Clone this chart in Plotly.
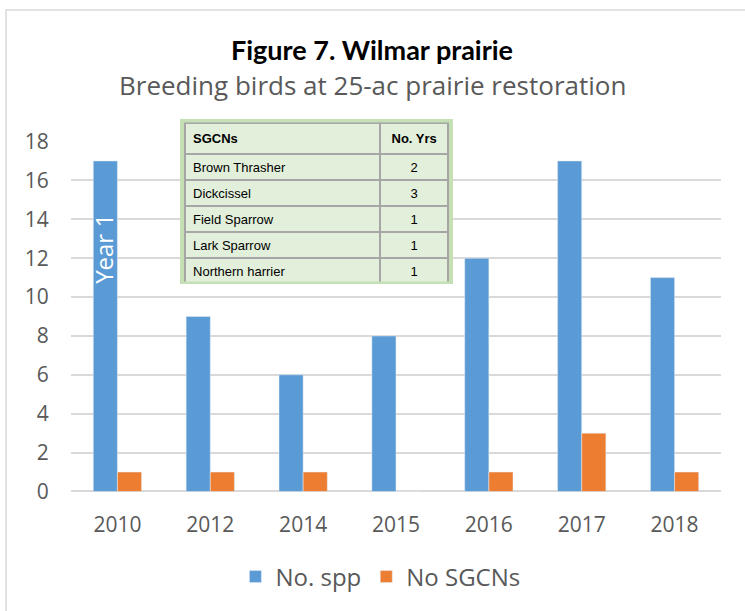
import plotly.graph_objects as go

years = ["2010", "2012", "2014", "2015", "2016", "2017", "2018"]
no_spp = [17, 9, 6, 8, 12, 17, 11]
no_sgcns = [1, 1, 1, 0, 1, 3, 1]

sgcn_names = ["Brown Thrasher", "Dickcissel", "Field Sparrow", "Lark Sparrow", "Northern harrier"]
sgcn_years = [2, 3, 1, 1, 1]

title_font = "Lato, Carlito, Calibri, sans-serif"
body_font = "Open Sans, Calibri, sans-serif"
table_font = "Liberation Sans Narrow, Liberation Sans, Arial"
grey = "#595959"
grid = "#d9d9d9"
green_frame = "#c5e0b4"
green_cell = "#e2efda"

fig = go.Figure()
fig.add_trace(go.Bar(x=years, y=no_spp, name="No. spp", marker_color="#5b9bd5"))
fig.add_trace(go.Bar(x=years, y=no_sgcns, name="No SGCNs", marker_color="#ed7d31"))

# green frame behind the table (a one-cell table so it covers the gridlines)
fig.add_trace(go.Table(
    domain=dict(x=[0.1692, 0.5892], y=[0.5364, 0.8139]),
    header=dict(values=[""], height=10, fill=dict(color=green_frame),
                line=dict(color=green_frame, width=1)),
    cells=dict(values=[[""]], height=154, fill=dict(color=green_frame),
               line=dict(color=green_frame, width=1)),
))

# SGCN table
fig.add_trace(go.Table(
    domain=dict(x=[0.1754, 0.5815], y=[0.5398, 0.8080]),
    columnwidth=[196, 68],
    header=dict(values=["<b>SGCNs</b>", "<b>No. Yrs</b>"],
                align=["left", "center"], height=25,
                fill=dict(color=green_cell),
                line=dict(color="#a6a6a6", width=2),
                font=dict(family=table_font, size=13, color="black")),
    cells=dict(values=[sgcn_names, [str(v) for v in sgcn_years]],
               align=["left", "center"], height=26,
               fill=dict(color=green_cell),
               line=dict(color="#a6a6a6", width=2),
               font=dict(family=table_font, size=13, color="black")),
))

fig.update_layout(
    width=745, height=611,
    margin=dict(l=71, r=24, t=10, b=10, autoexpand=False),
    paper_bgcolor="white", plot_bgcolor="white",
    font=dict(family=body_font, color=grey),
    barmode="group", bargap=0.48, bargroupgap=0,
    showlegend=True,
    legend=dict(orientation="h", x=0.476, xanchor="center", y=0.0406, yanchor="middle",
                font=dict(size=24, color=grey, family=body_font), traceorder="normal"),
    xaxis=dict(type="category", categoryorder="array", categoryarray=years,
               range=[-0.5, len(years) - 0.5], showgrid=False, showline=False,
               ticks="outside", ticklen=14, tickcolor="rgba(0,0,0,0)",
               tickfont=dict(size=21, color=grey, family=body_font)),
    yaxis=dict(domain=[0.1853, 0.7775], range=[0, 18], dtick=2, showgrid=True, gridcolor=grid,
               gridwidth=1.5, zeroline=True, zerolinecolor=grid, zerolinewidth=1.5,
               ticks="outside", ticklen=17, tickcolor="rgba(0,0,0,0)",
               tickfont=dict(size=21, color=grey, family=body_font)),
    shapes=[
        dict(type="rect", xref="paper", yref="paper", x0=-0.1, x1=1.06, y0=-0.05, y1=1.0,
             line=dict(color=grid, width=1.5), fillcolor="rgba(0,0,0,0)", layer="below"),
    ],
    annotations=[
        dict(text="<b>Figure 7. Wilmar prairie</b>", xref="paper", yref="paper", x=0.4638, y=0.934,
             xanchor="center", yanchor="middle", showarrow=False,
             font=dict(size=27, color="black", family=title_font)),
        dict(text="Breeding birds at 25-ac prairie restoration", xref="paper", yref="paper",
             x=0.4638, y=0.8731, xanchor="center", yanchor="middle", showarrow=False,
             font=dict(size=26, color=grey, family=body_font)),
        dict(text="Year 1", x=0, y=12.5, xref="x", yref="y", xshift=-14, textangle=-90,
             showarrow=False, font=dict(size=24, color="white", family=body_font)),
    ],
)

fig.write_html("out.html", config={"displayModeBar": False},
               post_script="document.body.style.margin = '0';")
